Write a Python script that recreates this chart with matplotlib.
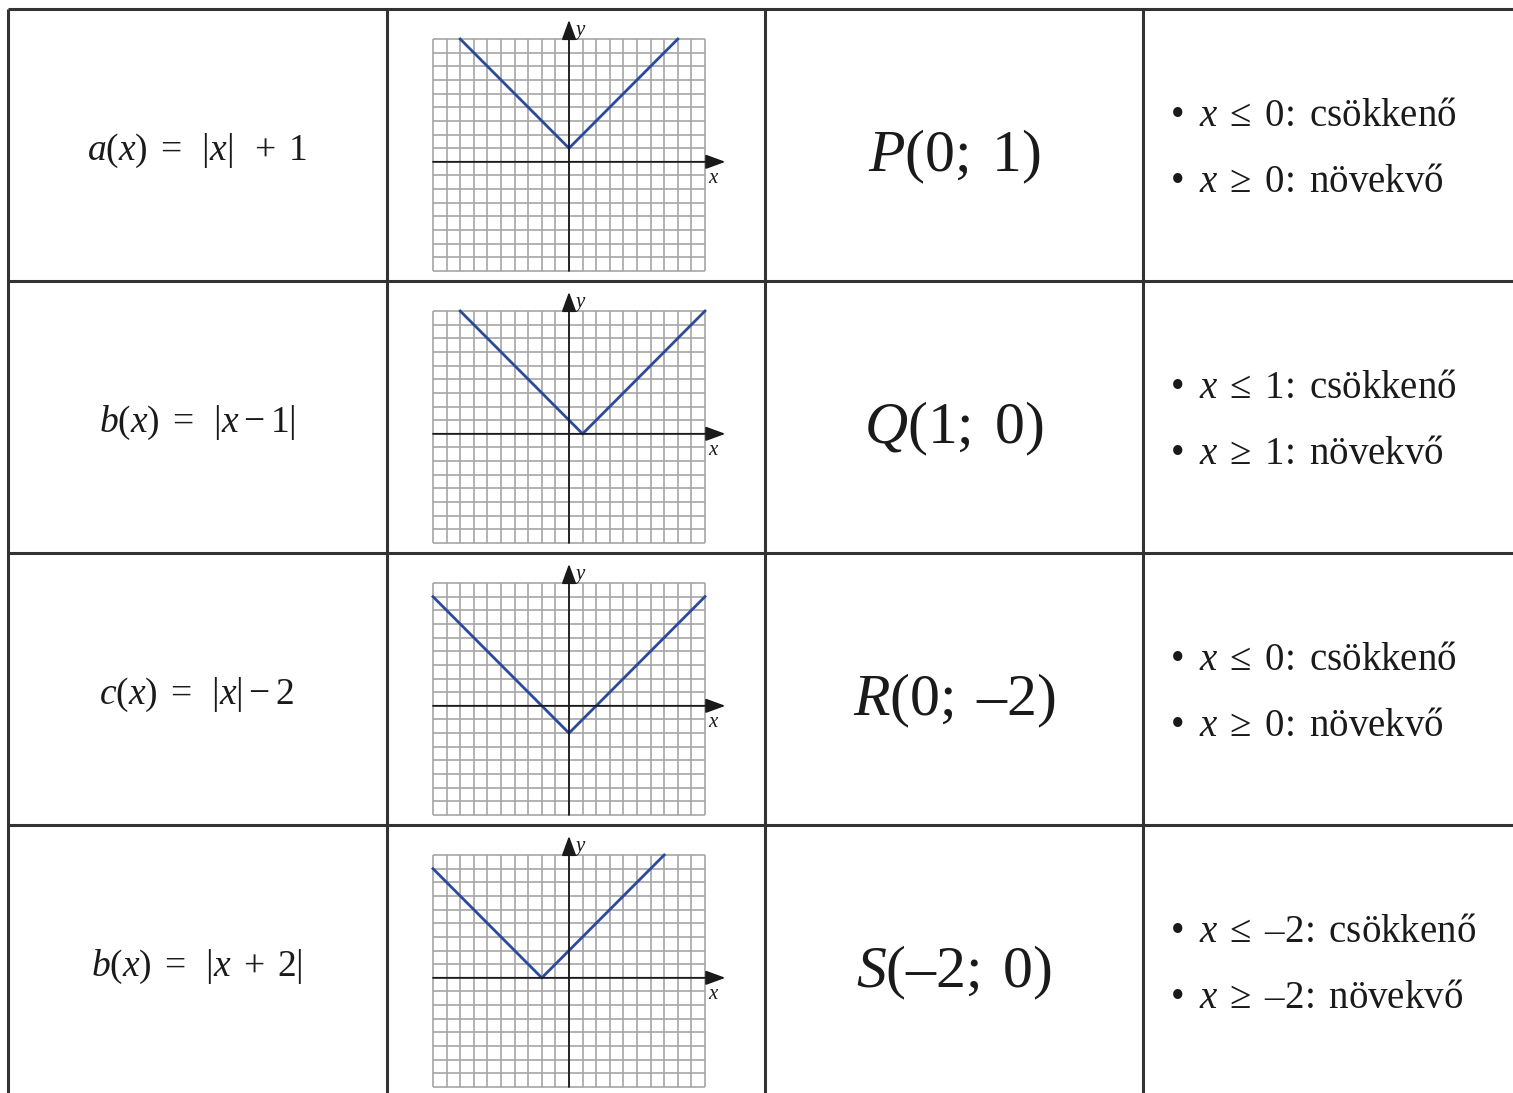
import matplotlib
matplotlib.use("Agg")
import matplotlib.pyplot as plt

plt.rcParams['mathtext.fontset'] = 'custom'
plt.rcParams['mathtext.rm'] = 'Liberation Serif'
plt.rcParams['mathtext.it'] = 'Liberation Serif:italic'
plt.rcParams['mathtext.bf'] = 'Liberation Serif:bold'
plt.rcParams['font.family'] = ['Liberation Serif', 'DejaVu Serif']

# ---- data ----
func_labels = [r'$a(x)\;=\;\;|x|\;\;+\;1$',
               r'$b(x)\;=\;\;|x-1|$',
               r'$c(x)\;=\;\;|x|-2$',
               r'$b(x)\;=\;\;|x\;+\;2|$']
vertex_labels = [r'$P\mathrm{(0;\;1)}$',
                 r'$Q\mathrm{(1;\;0)}$',
                 r'$R\mathrm{(0;\;–2)}$',
                 r'$S\mathrm{(–2;\;0)}$']
decr_labels = [r'$\mathrm{•}\;\;x\;\leq\;\mathrm{0\!:\;csökkenő}$',
               r'$\mathrm{•}\;\;x\;\leq\;\mathrm{1\!:\;csökkenő}$',
               r'$\mathrm{•}\;\;x\;\leq\;\mathrm{0\!:\;csökkenő}$',
               r'$\mathrm{•}\;\;x\;\leq\;\mathrm{–2\!:\;csökkenő}$']
incr_labels = [r'$\mathrm{•}\;\;x\;\geq\;\mathrm{0\!:\;növekvő}$',
               r'$\mathrm{•}\;\;x\;\geq\;\mathrm{1\!:\;növekvő}$',
               r'$\mathrm{•}\;\;x\;\geq\;\mathrm{0\!:\;növekvő}$',
               r'$\mathrm{•}\;\;x\;\geq\;\mathrm{–2\!:\;növekvő}$']
# polyline points of each graph (left end, vertex, right end)
graph_x = [[-8, 0, 8],
           [-8, 1, 10],
           [-10, 0, 10],
           [-10, -2, 7]]
graph_y = [[9, 1, 9],
           [9, 0, 9],
           [8, -2, 8],
           [8, 0, 9]]
grid_xmin, grid_xmax = -10, 10
grid_ymin, grid_ymax = -8, 9

# ---- layout (pixels) ----
W, H = 1513, 1093
fig = plt.figure(figsize=(W / 100, H / 100), dpi=100)
ax = fig.add_axes([0, 0, 1, 1])
ax.set_xlim(0, W)
ax.set_ylim(H, 0)
ax.axis('off')

row_tops = [9, 281, 553, 825]
row_h = 272
col_x = [8, 387, 765, 1143]
line_col = '#333333'
lw_table = 2.2

for y in row_tops:
    ax.plot([col_x[0], W], [y, y], color=line_col, lw=lw_table, solid_capstyle='butt')
for x in col_x:
    ax.plot([x, x], [row_tops[0], H], color=line_col, lw=lw_table, solid_capstyle='butt')

text_col = '#1a1a1a'
blue = '#2b4a9b'
for i in range(4):
    top = row_tops[i]
    cy = top + row_h / 2
    ax.text(197, cy + 6, func_labels[i], fontsize=27, ha='center', va='center', color=text_col)
    ax.text(954, cy + 12, vertex_labels[i], fontsize=43, ha='center', va='center', color=text_col)
    ax.text(1170, top + 108, decr_labels[i], fontsize=28, ha='left', va='center', color=text_col)
    ax.text(1170, top + 174, incr_labels[i], fontsize=28, ha='left', va='center', color=text_col)

    # graph
    gl, gr = 433, 705
    gt, gb = top + 30, top + 262
    gax = fig.add_axes([gl / W, 1 - gb / H, (gr - gl) / W, (gb - gt) / H])
    gax.set_xlim(grid_xmin, grid_xmax)
    gax.set_ylim(grid_ymin, grid_ymax)
    gax.axis('off')
    gax.vlines(range(grid_xmin, grid_xmax + 1), grid_ymin, grid_ymax, color='#a6a6a6', lw=1.2, clip_on=False)
    gax.hlines(range(grid_ymin, grid_ymax + 1), grid_xmin, grid_xmax, color='#a6a6a6', lw=1.2, clip_on=False)
    ap = dict(arrowstyle='-|>,head_length=0.6,head_width=0.22', color='#1a1a1a', lw=1.3,
              shrinkA=0, shrinkB=0, mutation_scale=20)
    gax.annotate('', xy=(11.5, 0), xytext=(grid_xmin, 0), arrowprops=ap, annotation_clip=False)
    gax.annotate('', xy=(0, 10.4), xytext=(0, grid_ymin), arrowprops=ap, annotation_clip=False)
    gax.text(10.6, -1.2, 'x', fontsize=15, style='italic', ha='center', va='center', color=text_col)
    gax.text(0.8, 9.6, 'y', fontsize=15, style='italic', ha='center', va='center', color=text_col)
    gax.plot(graph_x[i], graph_y[i], color=blue, lw=2.0, clip_on=False, solid_joinstyle='miter')

fig.savefig('out.png', dpi=100)
